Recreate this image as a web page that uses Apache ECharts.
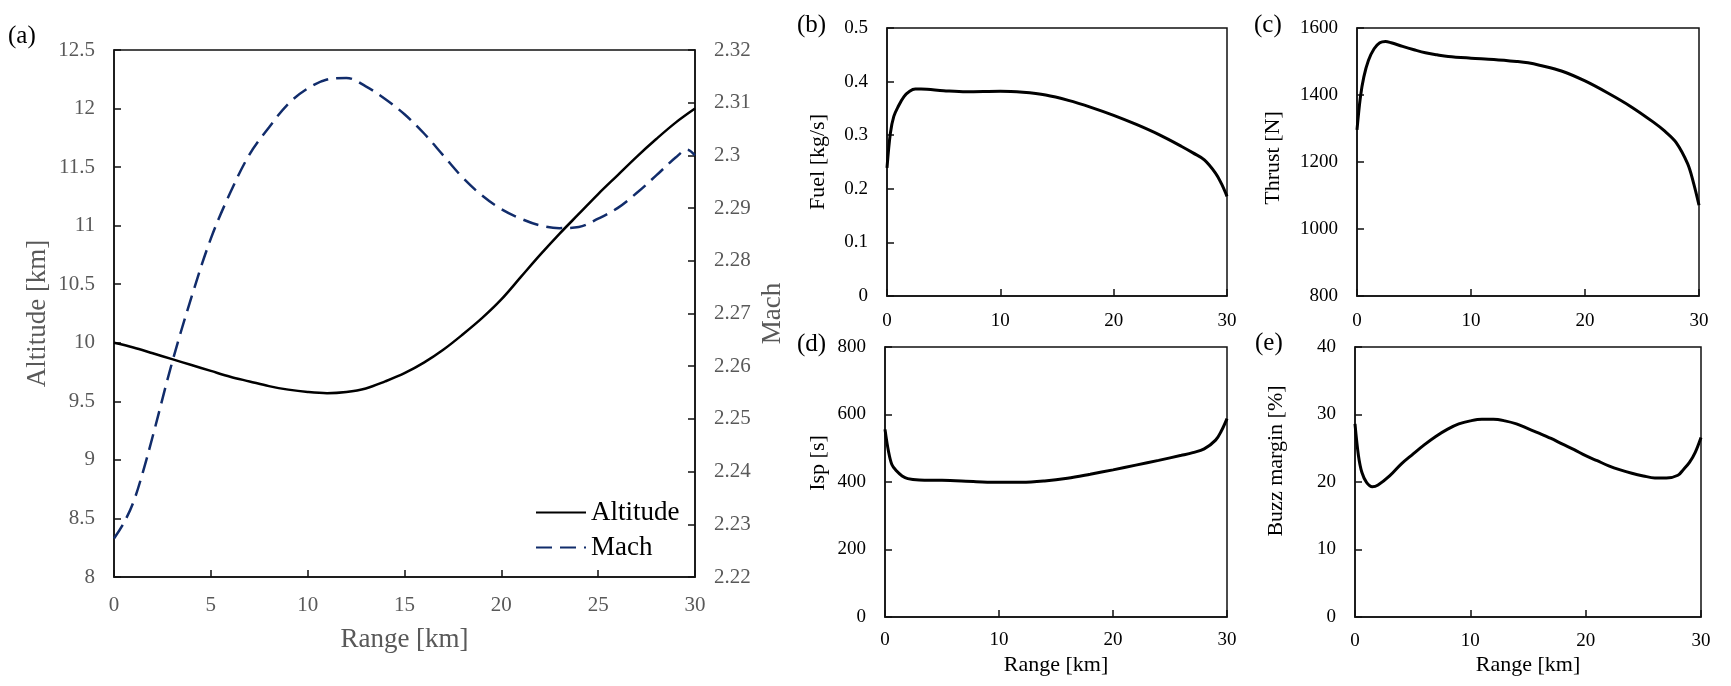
<!DOCTYPE html>
<html><head><meta charset="utf-8">
<script src="https://cdn.jsdelivr.net/npm/echarts@6/dist/echarts.min.js"></script>
<style>html,body{margin:0;padding:0;background:#fff}#c{width:1731px;height:686px}</style>
</head><body><div id="c"></div>
<script>
// ---- Panel (a): Altitude & Mach vs Range ----
const altRange = [0,1,2,3,4,5,6,7,8,9,10,11,12,13,14,15,16,17,18,19,20,21,22,23,24,25,26,27,28,29,30];
const altValues = [10.0,9.96,9.91,9.86,9.81,9.76,9.71,9.67,9.63,9.6,9.58,9.57,9.58,9.61,9.67,9.74,9.83,9.94,10.07,10.21,10.37,10.56,10.75,10.93,11.1,11.27,11.43,11.59,11.74,11.88,12.0];
const machRange = [0,0.5,1,1.5,2,3,4,5,6,7,8,9,10,11,12,13,14,15,16,17,18,19,20,21,22,23,24,25,26,27,28,29,29.6,30];
const machValues = [2.2273,2.2302,2.2342,2.2400,2.2467,2.2607,2.2731,2.2842,2.2929,2.3002,2.3053,2.3098,2.3127,2.3144,2.3147,2.3131,2.3107,2.3078,2.3042,2.3000,2.2958,2.2924,2.2898,2.2880,2.2867,2.2862,2.2864,2.2880,2.2900,2.2929,2.2962,2.2996,2.3011,2.3000];
// ---- Panel (b): Fuel ----
const fuelRange = [0,0.3,0.6,1,1.5,2,2.5,3,5,7,10,12,14,16,18,20,22,24,26,27,28,29,29.5,30];
const fuelValues = [0.239,0.304,0.335,0.354,0.372,0.382,0.386,0.386,0.383,0.381,0.382,0.380,0.375,0.365,0.352,0.337,0.320,0.301,0.279,0.267,0.254,0.229,0.21,0.186];
// ---- Panel (c): Thrust ----
const thrustRange = [0,0.3,0.6,1,1.5,2,2.5,3,4,5,6,7,8,10,12,14,15,16,18,20,22,24,26,27,28,29,29.5,30];
const thrustValues = [1296,1394,1454,1503,1538,1556,1560,1556,1545,1535,1526,1520,1515,1510,1506,1500,1496,1489,1471,1442,1406,1366,1319,1292,1258,1195,1140,1071];
// ---- Panel (d): Isp ----
const ispRange = [0,0.3,0.6,1,1.5,2,3,5,8,10,12,14,16,18,20,22,24,26,27,28,29,29.5,30];
const ispValues = [556,492,452,433,418,410,406,405,401,399,399,403,411,423,436,450,464,479,487,498,524,551,588];
// ---- Panel (e): Buzz margin ----
const buzzRange = [0,0.3,0.6,1,1.5,2,3,4,5,6,7,8,9,10,11,12,13,14,15,16,17,18,19,20,21,22,23,24,25,26,27,28,28.5,29,29.5,30];
const buzzValues = [28.6,23.9,21.4,19.95,19.3,19.56,20.9,22.66,24.1,25.5,26.75,27.8,28.6,29.06,29.3,29.3,29.06,28.6,27.9,27.2,26.45,25.6,24.8,23.9,23.15,22.4,21.8,21.3,20.9,20.6,20.6,21.0,21.9,22.9,24.4,26.6];
// tick settings
const yTicksA = {min: 8, max: 12.5, interval: 0.5};
const yTicksMach = {min: 2.22, max: 2.32, interval: 0.01};

const zip = (xs, ys) => xs.map((x, i) => [x, ys[i]]);
const FF = 'Liberation Serif';
const GRAY = '#595959';
const BLACK = '#000';
const plain = v => String(+v.toFixed(4));

function xAxis(gi, interval, color, fs, margin, name, nameGap, nfs) {
  return {
    type: 'value', gridIndex: gi, min: 0, max: 30, interval: interval,
    axisLine: {show: true, onZero: false, lineStyle: {color: '#111', width: 1.5}},
    axisTick: {show: true, inside: true, length: 7, lineStyle: {color: '#111', width: 1.5}},
    splitLine: {show: false},
    axisLabel: {color: color, fontFamily: FF, fontSize: fs, margin: margin, formatter: plain},
    name: name, nameLocation: 'middle', nameGap: nameGap,
    nameTextStyle: {color: color, fontFamily: FF, fontSize: nfs}
  };
}
function yAxis(gi, t, pos, color, fs, name, nameGap, nfs, pad) {
  return {
    type: 'value', gridIndex: gi, position: pos, min: t.min, max: t.max, interval: t.interval,
    axisLine: {show: true, onZero: false, lineStyle: {color: '#111', width: 1.5}},
    axisTick: {show: true, inside: true, length: 7, lineStyle: {color: '#111', width: 1.5}},
    splitLine: {show: false},
    axisLabel: {color: color, fontFamily: FF, fontSize: fs, margin: 19, formatter: plain},
    name: name, nameLocation: 'middle', nameGap: nameGap,
    nameTextStyle: {color: color, fontFamily: FF, fontSize: nfs, padding: pad || 0}
  };
}
const border = {show: true, borderColor: '#111', borderWidth: 1.5, backgroundColor: 'transparent'};

const option = {
  animation: false,
  backgroundColor: '#fff',
  grid: [
    Object.assign({left: 114, top: 50, width: 581, height: 527}, border),
    Object.assign({left: 887, top: 28, width: 340, height: 268}, border),
    Object.assign({left: 1357, top: 28, width: 342, height: 268}, border),
    Object.assign({left: 885, top: 347, width: 342, height: 270}, border),
    Object.assign({left: 1355, top: 347, width: 346, height: 270}, border)
  ],
  xAxis: [
    xAxis(0, 5, GRAY, 21, 18, 'Range [km]', 49, 27),
    xAxis(1, 10, BLACK, 19, 16, '', 0, 22),
    xAxis(2, 10, BLACK, 19, 16, '', 0, 22),
    xAxis(3, 10, BLACK, 19, 14, 'Range [km]', 37, 22),
    xAxis(4, 10, BLACK, 19, 15, 'Range [km]', 37, 22)
  ],
  yAxis: [
    yAxis(0, yTicksA, 'left', GRAY, 21, 'Altitude [km]', 63, 27),
    yAxis(0, yTicksMach, 'right', GRAY, 21, 'Mach', 64, 27),
    yAxis(1, {min: 0, max: 0.5, interval: 0.1}, 'left', BLACK, 19, 'Fuel [kg/s]', 58, 22),
    yAxis(2, {min: 800, max: 1600, interval: 200}, 'left', BLACK, 19, 'Thrust [N]', 73, 22, [0, 0, 0, 8]),
    yAxis(3, {min: 0, max: 800, interval: 200}, 'left', BLACK, 19, 'Isp [s]', 56, 22, [0, 0, 0, 38]),
    yAxis(4, {min: 0, max: 40, interval: 10}, 'left', BLACK, 19, 'Buzz margin [%]', 68, 22, [0, 0, 0, 42])
  ],
  legend: {
    left: 530, top: 494, orient: 'vertical', itemWidth: 50, itemHeight: 14, itemGap: 8,
    itemStyle: {opacity: 0},
    textStyle: {fontFamily: FF, fontSize: 27, color: '#000'},
    data: ['Altitude', 'Mach']
  },
  series: [
    {type: 'line', name: 'Altitude', xAxisIndex: 0, yAxisIndex: 0, data: zip(altRange, altValues),
     symbol: 'none', showSymbol: false, smooth: 0.35, lineStyle: {color: '#000', width: 2.5}, itemStyle: {color: '#000'}},
    {type: 'line', name: 'Mach', xAxisIndex: 0, yAxisIndex: 1, data: zip(machRange, machValues),
     symbol: 'none', showSymbol: false, smooth: 0.35, lineStyle: {color: '#112c6b', width: 2.5, type: [16, 8]}, itemStyle: {color: '#112c6b'}},
    {type: 'line', name: 'Fuel', xAxisIndex: 1, yAxisIndex: 2, data: zip(fuelRange, fuelValues),
     symbol: 'none', smooth: 0.35, lineStyle: {color: '#000', width: 3}},
    {type: 'line', name: 'Thrust', xAxisIndex: 2, yAxisIndex: 3, data: zip(thrustRange, thrustValues),
     symbol: 'none', smooth: 0.35, lineStyle: {color: '#000', width: 3}},
    {type: 'line', name: 'Isp', xAxisIndex: 3, yAxisIndex: 4, data: zip(ispRange, ispValues),
     symbol: 'none', smooth: 0.35, lineStyle: {color: '#000', width: 3}},
    {type: 'line', name: 'Buzz', xAxisIndex: 4, yAxisIndex: 5, data: zip(buzzRange, buzzValues),
     symbol: 'none', smooth: 0.35, lineStyle: {color: '#000', width: 3}}
  ],
  graphic: [
    {type: 'text', left: 8, top: 24, style: {text: '(a)', font: '25px "Liberation Serif"', fill: '#000'}},
    {type: 'text', left: 797, top: 13, style: {text: '(b)', font: '25px "Liberation Serif"', fill: '#000'}},
    {type: 'text', left: 1254, top: 13, style: {text: '(c)', font: '25px "Liberation Serif"', fill: '#000'}},
    {type: 'text', left: 797, top: 332, style: {text: '(d)', font: '25px "Liberation Serif"', fill: '#000'}},
    {type: 'text', left: 1255, top: 331, style: {text: '(e)', font: '25px "Liberation Serif"', fill: '#000'}}
  ]
};
const chart = echarts.init(document.getElementById('c'), null, {renderer: 'canvas'});
chart.setOption(option);
</script>
</body></html>
